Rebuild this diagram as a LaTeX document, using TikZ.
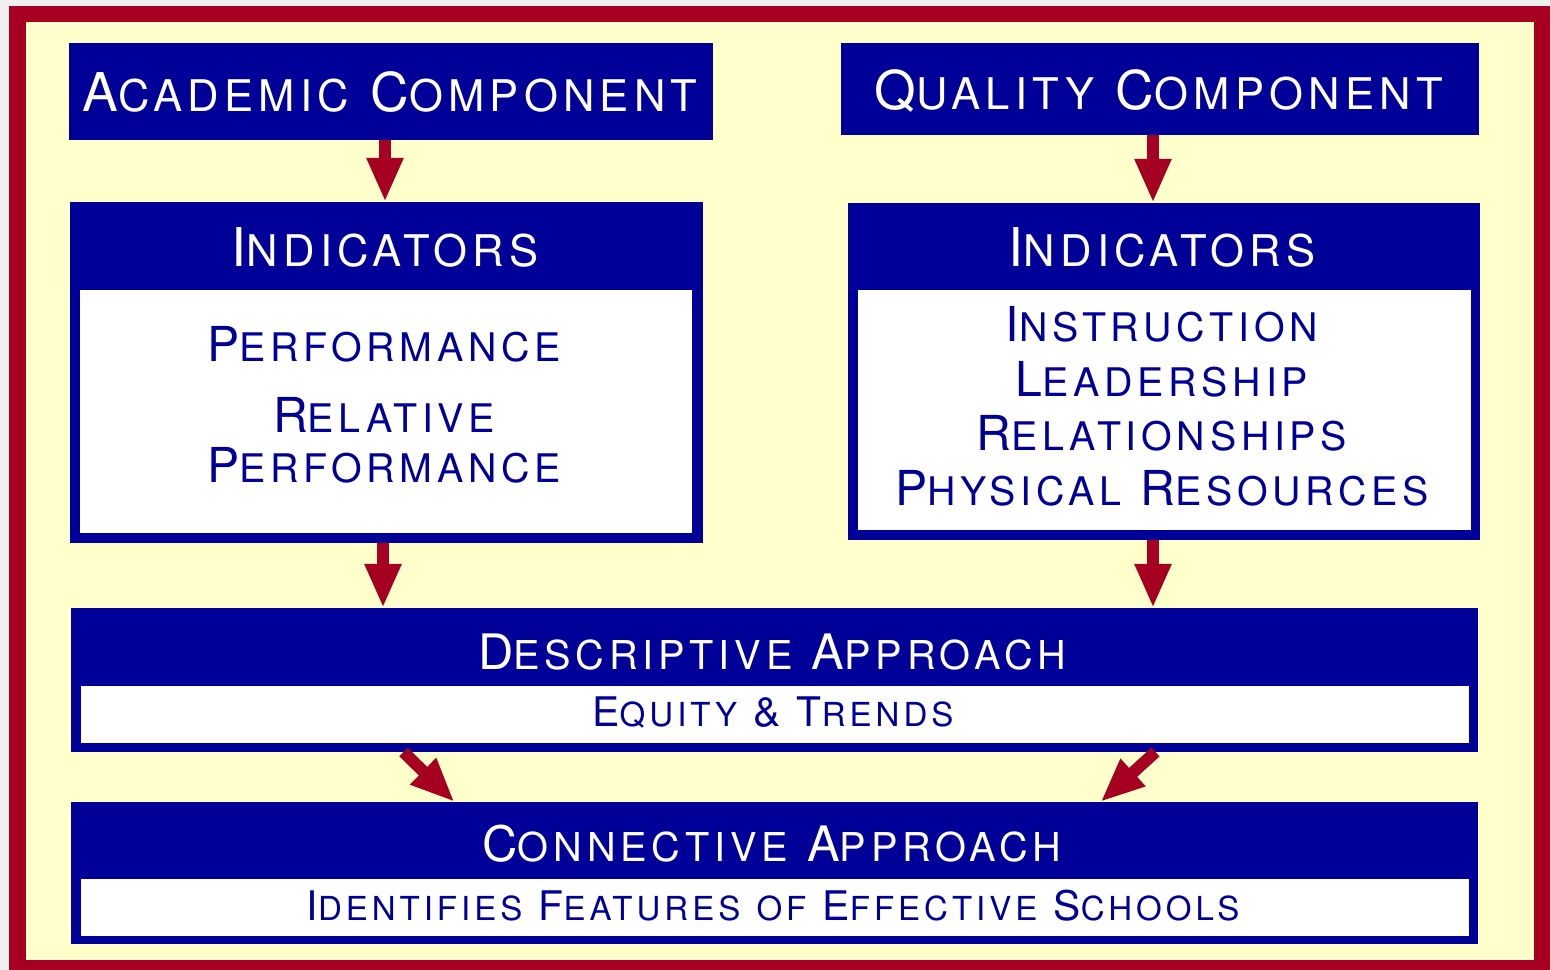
\documentclass[tikz,border=0pt]{standalone}
\usepackage{fontspec}
\usepackage{tikz}
\usetikzlibrary{arrows.meta, calc}

\newfontfamily\capsfont[LetterSpace=12]{TeX Gyre Heros}
\definecolor{navy}{RGB}{0,0,153}
\definecolor{crimson}{RGB}{165,0,33}
\definecolor{cream}{RGB}{255,255,204}
\definecolor{paper}{RGB}{240,240,240}

% hand-made small capitals: first letter large, the rest smaller
\newcommand\bigsz{14.5}
\newcommand\smlsz{11.8}
\newcommand\capword[2]{{\fontsize{\bigsz}{18}\selectfont #1}{\fontsize{\smlsz}{18}\selectfont #2}}

\begin{document}
\begin{tikzpicture}[
    x=0.01cm, y=-0.01cm,
    every node/.style={inner sep=0pt, outer sep=0pt},
    panel/.style={fill=navy},
    inset/.style={fill=white},
    title/.style={anchor=base, text=white,
        font={\def\bigsz{15.2}\def\smlsz{12.4}\capsfont\fontsize{15.2}{18}\selectfont}},
    wide title/.style={anchor=base, text=white,
        font={\def\bigsz{13.9}\def\smlsz{11.3}\capsfont\fontsize{13.9}{18}\selectfont}},
    item/.style={anchor=base, text=navy,
        font={\def\bigsz{13.7}\def\smlsz{11.2}\capsfont\fontsize{13.7}{18}\selectfont}},
    subtitle/.style={anchor=base, text=navy,
        font={\def\bigsz{11.6}\def\smlsz{9.4}\capsfont\fontsize{11.6}{15}\selectfont}},
    flow/.style={crimson, line width=0.12cm,
        -{Triangle[width=0.34cm, length=0.44cm]}}
]
    % --- frame ---
    \fill[paper] (0,0) rectangle (1550,970);
    \fill[crimson] (9,6) rectangle (1550,970);
    \fill[cream] (26,22) rectangle (1534,960);

    % --- top row: the two components ---
    \node[panel, minimum width=6.44cm, minimum height=0.97cm] (acad) at (391,91.5) {};
    \node[title] (acadtxt) at (390,112) {\capword{A}{CADEMIC} \capword{C}{OMPONENT}};
    \node[panel, minimum width=6.38cm, minimum height=0.92cm] (qual) at (1160,89) {};
    \node[title] (qualtxt) at (1159,110) {\capword{Q}{UALITY} \capword{C}{OMPONENT}};

    % --- indicator panels ---
    \node[panel, minimum width=6.33cm, minimum height=3.41cm] (indL) at (386.5,372.5) {};
    \node[inset, minimum width=6.12cm, minimum height=2.43cm] (indLbody) at (386,411.5) {};
    \node[title] (indLtxt) at (385,267) {\capword{I}{NDICATORS}};
    \node[item] (perf) at (384,362) {\capword{P}{ERFORMANCE}};
    \node[item] (relA) at (384,433) {\capword{R}{ELATIVE}};
    \node[item] (relB) at (384,483) {\capword{P}{ERFORMANCE}};

    \node[panel, minimum width=6.32cm, minimum height=3.37cm] (indR) at (1164,371.5) {};
    \node[inset, minimum width=6.13cm, minimum height=2.40cm] (indRbody) at (1164.5,410) {};
    \node[title] (indRtxt) at (1162,267) {\capword{I}{NDICATORS}};
    \foreach \txt [count=\i] in {\capword{I}{NSTRUCTION}, \capword{L}{EADERSHIP},
        \capword{R}{ELATIONSHIPS}, \capword{P}{HYSICAL} \capword{R}{ESOURCES}}
        \node[item] (qitem\i) at (1162,{342+54.5*(\i-1)}) {\txt};

    % --- approaches ---
    \node[panel, minimum width=14.07cm, minimum height=1.44cm] (desc) at (774.5,680) {};
    \node[inset, minimum width=13.88cm, minimum height=0.57cm] (descbody) at (775,714.5) {};
    \node[wide title] (desctxt) at (772,670) {\capword{D}{ESCRIPTIVE} \capword{A}{PPROACH}};
    \node[subtitle] (descsub) at (773,727) {\capword{E}{QUITY} \& \capword{T}{RENDS}};

    \node[panel, minimum width=14.07cm, minimum height=1.42cm] (conn) at (774.5,873) {};
    \node[inset, minimum width=13.88cm, minimum height=0.57cm] (connbody) at (775,907.5) {};
    \node[wide title] (conntxt) at (772,862) {\capword{C}{ONNECTIVE} \capword{A}{PPROACH}};
    \node[subtitle] (connsub) at (773,920) {\capword{I}{DENTIFIES} \capword{F}{EATURES}
        \capword{}{OF} \capword{E}{FFECTIVE} \capword{S}{CHOOLS}};

    % --- arrows ---
    \draw[flow] ($(acad.south)+(-6,0)$) -- ($(indL.north)+(-1.5,0)$);
    \draw[flow] ($(qual.south)+(-7,0)$) -- ($(indR.north)+(-11,0)$);
    \draw[flow] ($(indL.south)+(-3.5,0)$) -- ($(desc.north)+(-391.5,0)$);
    \draw[flow] ($(indR.south)+(-11,0)$) -- ($(desc.north)+(378.5,0)$);
    \draw[flow] ($(desc.south)+(-371,0)$) -- ($(conn.north)+(-320,0)$);
    \draw[flow] ($(desc.south)+(381,0)$) -- ($(conn.north)+(326,0)$);
\end{tikzpicture}
\end{document}
